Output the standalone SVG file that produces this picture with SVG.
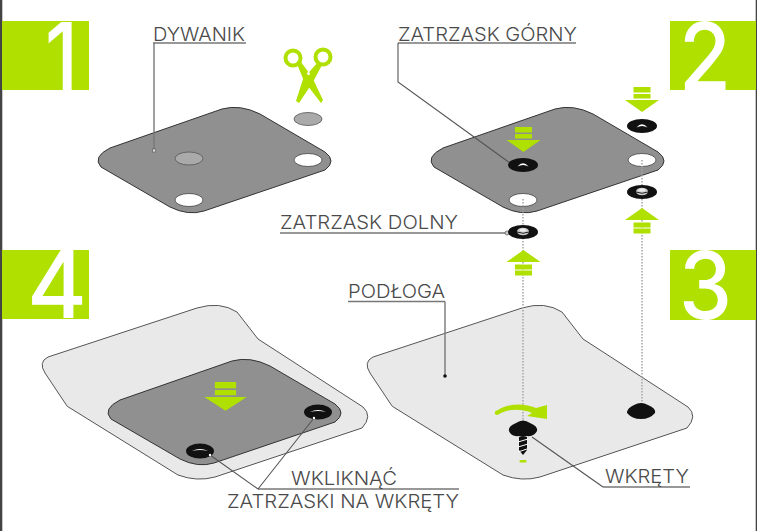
<svg xmlns="http://www.w3.org/2000/svg" xmlns:xlink="http://www.w3.org/1999/xlink" width="757" height="531" viewBox="0 0 757 531">
<style>
.box{fill:#afe000}
.num{font-family:Inter,"Liberation Sans",sans-serif;font-size:93px;font-weight:500;fill:#fff}
.lbl{font-family:Inter,"Open Sans",sans-serif;font-size:19px;font-weight:300;fill:#4a4a4a}
.lead{fill:none;stroke:#555;stroke-width:1.1}
.under{fill:none;stroke:#777;stroke-width:1.4}
.dot{fill:none;stroke:#a5a5a5;stroke-width:1.5;stroke-dasharray:1.5 1.5}
.pad{fill:#8f908f;stroke:#333;stroke-width:1}
.floor{fill:#e9e9e9;stroke:#555;stroke-width:1}
.hole{fill:#fff;stroke:#444;stroke-width:.8}
.cut{fill:#aaa;stroke:#555;stroke-width:.8}
.g{fill:#afe000}
</style>
<defs>
<path id="padShape" d="M110,148 L222,109 Q240,104 260,114 L325,152 Q337,161 325,170 L204,211 Q188,216 170,207 L101,167 Q92,157 110,148 Z"/>
<path id="floorShape" d="M373,357 L522,308 Q545,301 562,312 L583,339 L688,407 Q698,416 687,428 L540,477 Q522,482 503,475 L395,408 Q392,407 390,403 L370,373 Q363,362 373,357 Z"/>
<g id="snapTop"><ellipse rx="15" ry="7" fill="#111"/><path d="M-5.5,1.5 Q0,-5 5.500,1.500 Q0,-1.500 -5.500,1.500 Z" fill="#fff"/></g>
<g id="snapBottom"><ellipse rx="15" ry="7" fill="#111"/><ellipse cy="-.5" rx="6" ry="3.800" fill="#ccc"/><path d="M-6,0 Q0,2.500 6,0" stroke="#222" fill="none"/><ellipse cy="-2" rx="3" ry="1.500" fill="#eee"/></g>
<g id="snapClosed"><ellipse rx="14" ry="7.500" fill="#111"/><path d="M-8,0 Q0,-4 8,0 Q0,-2 -8,0 Z" fill="#fff"/></g>
<g id="arrowDown"><rect x="-8.500" y="0" width="17" height="5.500" class="g"/><rect x="-8.500" y="7" width="17" height="4.500" class="g"/><path d="M-17,13 H17 L0,25 Z" class="g"/></g>
<g id="arrowUp"><path d="M-17,12 H17 L0,0 Z" class="g"/><rect x="-8.500" y="14.500" width="17" height="5" class="g"/><rect x="-8.500" y="20.500" width="17" height="5" class="g"/></g>
</defs>
<rect width="757" height="531" fill="#fff"/>
<rect x="0" y="0" width="2.300" height="531" fill="#444"/>
<rect x="755.700" y="0" width="1.300" height="531" fill="#444"/>

<g id="step1">
<rect class="box" x="2" y="21" width="87" height="69"/>
<text class="num" x="45" y="90" textLength="33" lengthAdjust="spacingAndGlyphs">1</text>
</g>
<g id="step2">
<rect class="box" x="670" y="21" width="86" height="69"/>
<text class="num" x="679" y="90" textLength="52" lengthAdjust="spacingAndGlyphs">2</text>
</g>
<g id="step3">
<rect class="box" x="670" y="250" width="86" height="70"/>
<text class="num" x="679" y="319" textLength="53" lengthAdjust="spacingAndGlyphs">3</text>
</g>
<g id="step4">
<rect class="box" x="2" y="250" width="87" height="69"/>
<text class="num" x="27" y="318" textLength="60" lengthAdjust="spacingAndGlyphs">4</text>
</g>

<g id="panel1-mat">
<use href="#padShape" class="pad"/>
<ellipse class="cut" cx="189" cy="158.500" rx="14" ry="6.500"/>
<ellipse class="hole" cx="308" cy="160" rx="14" ry="6.500"/>
<ellipse class="hole" cx="189" cy="200" rx="14" ry="6.500"/>
</g>
<g id="cutout"><ellipse class="cut" cx="308" cy="119" rx="14" ry="6.500"/></g>
<g id="scissors">
<circle cx="293" cy="58" r="7.500" fill="none" stroke="#afe000" stroke-width="4"/>
<circle cx="323" cy="57" r="7.500" fill="none" stroke="#afe000" stroke-width="4"/>
<path class="g" d="M297,64 L301,62 L312,77 L323,100 L321,103 L304,81 Z"/>
<path class="g" d="M318,62 L322,65 L313,82 L299,103 L296,101 L303,79 Z"/>
<circle cx="308.500" cy="73.500" r="1.500" fill="#fff"/>
</g>

<g id="panel3-floor"><use href="#floorShape" class="floor"/></g>
<g id="panel4-floor"><use href="#floorShape" class="floor" transform="translate(-325,0)"/></g>
<g id="panel4-mat">
<use href="#padShape" class="pad" transform="translate(10,252)"/>
<use href="#snapClosed" x="200" y="451"/>
<use href="#snapClosed" x="318" y="412"/>
<use href="#arrowDown" transform="translate(225.500,382) scale(1.250,1.150)"/>
</g>
<g id="panel2-mat">
<use href="#padShape" class="pad" transform="translate(333,0)"/>
<ellipse class="hole" cx="642" cy="160" rx="14" ry="6.500"/>
<ellipse class="hole" cx="523" cy="200" rx="14" ry="6.500"/>
</g>

<g id="connectors">
<path class="dot" d="M523,199 V424"/>
<path class="dot" d="M642,160 V404"/>
<path class="under" d="M153,43 H246 M398,43 H576 M280,233 H508 M348,301.500 H445 M258,489 H459 M603,487 H690"/>
<path class="under" d="M154,43 V150"/>
<path class="under" d="M445,301.500 V376"/>
<path class="lead" d="M398,43 V82 L510,163"/>
<path class="lead" d="M258,489 L210,455 M258,489 L314,418"/>
<path class="lead" d="M603,487 L532,437"/>
<rect x="152.500" y="149" width="3" height="3" fill="#ddd" stroke="#555" stroke-width=".6"/>
<circle cx="445" cy="376" r="1.800" fill="#111"/>
<circle cx="507" cy="233" r="2" fill="#ccc" stroke="#444" stroke-width=".6"/>
<circle cx="210" cy="455" r="1.200" fill="#fff"/>
<circle cx="314" cy="418" r="1.200" fill="#fff"/>
</g>

<g id="fasteners">
<use href="#snapTop" x="523" y="165"/>
<use href="#snapTop" x="642" y="126"/>
<use href="#snapBottom" x="642" y="192"/>
<use href="#snapBottom" x="523" y="232"/>
<use href="#arrowDown" x="523.500" y="127"/>
<use href="#arrowDown" x="642" y="87"/>
<use href="#arrowUp" x="642" y="208"/>
<use href="#arrowUp" x="523.500" y="250"/>
</g>
<g id="screw-left">
<path class="g" d="M495,414 Q494,411 498,410 C510,403 524,403 536,408 L547,405 V419 L527,416 L532,413 C520,408 508,409 499,414 Q497,416 495,414 Z"/>
<path d="M516,423 Q523,418 530,423 Q538,426 537,431 Q534,437 527,436 Q523,438 519,436 Q511,437 509,431 Q508,426 516,423 Z" fill="#111"/>
<path d="M519,437 H527 L527,450 L523,455 L519,450 Z" fill="#111"/>
<path d="M518,442 L528,439 M518,447 L528,444 M518,452 L527,449" stroke="#fff" stroke-width="1"/>
<rect x="519.500" y="460" width="7" height="2.500" rx="1" class="g"/>
</g>
<g id="screw-right">
<path d="M634,405 Q641,401 648,405 Q656,408 655,413 Q650,419 641,419 Q632,419 627,413 Q627,408 634,405 Z" fill="#111"/>
</g>

<g id="labels">
<text class="lbl" x="153" y="41" textLength="92" lengthAdjust="spacingAndGlyphs">DYWANIK</text>
<text class="lbl" x="398" y="41" textLength="179" lengthAdjust="spacingAndGlyphs">ZATRZASK GÓRNY</text>
<text class="lbl" x="280" y="229" textLength="178" lengthAdjust="spacingAndGlyphs">ZATRZASK DOLNY</text>
<text class="lbl" x="348" y="298" textLength="97" lengthAdjust="spacingAndGlyphs">PODŁOGA</text>
<text class="lbl" x="291" y="485" textLength="106" lengthAdjust="spacingAndGlyphs">WKLIKNĄĆ</text>
<text class="lbl" x="227" y="508" textLength="232" lengthAdjust="spacingAndGlyphs">ZATRZASKI NA WKRĘTY</text>
<text class="lbl" x="605" y="483" textLength="84" lengthAdjust="spacingAndGlyphs">WKRĘTY</text>
</g>
</svg>
